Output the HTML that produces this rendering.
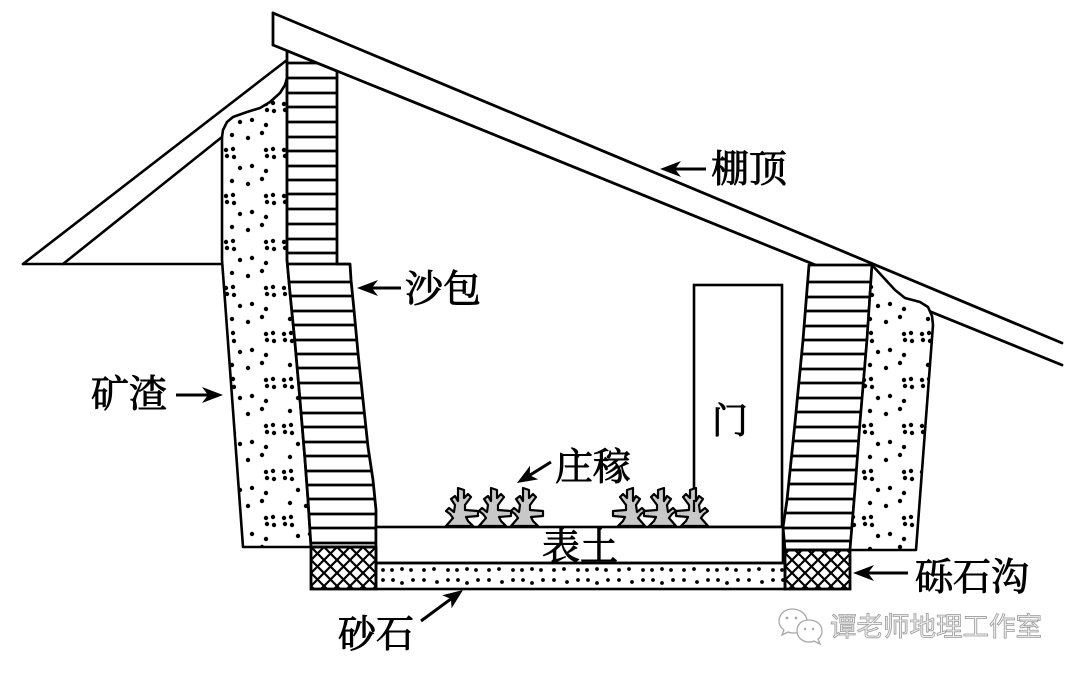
<!DOCTYPE html>
<html>
<head>
<meta charset="utf-8">
<style>
html,body{margin:0;padding:0;background:#fff;}
svg{display:block;}
.lbl{font-family:"Liberation Serif","Noto Serif CJK SC",serif;font-size:38px;fill:#000;stroke:#000;stroke-width:0.9;}
</style>
</head>
<body>
<svg width="1080" height="676" viewBox="0 0 1080 676" xmlns="http://www.w3.org/2000/svg">
<defs>
  <pattern id="slag" patternUnits="userSpaceOnUse" x="222" y="100" width="58" height="46">
    <g fill="#000">
      <circle cx="4" cy="4" r="2.2"/><circle cx="11" cy="3" r="2.2"/><circle cx="5" cy="10" r="2.2"/><circle cx="12" cy="11" r="2.2"/>
      <circle cx="44" cy="4" r="2.2"/><circle cx="51" cy="3" r="2.2"/><circle cx="45" cy="10" r="2.2"/><circle cx="52" cy="11" r="2.2"/>
      <circle cx="18" cy="22" r="2.2"/><circle cx="30" cy="20" r="2.2"/><circle cx="44" cy="25" r="2.2"/>
      <circle cx="10" cy="35" r="2.2"/><circle cx="26" cy="38" r="2.2"/><circle cx="40" cy="33" r="2.2"/>
    </g>
  </pattern>
  <pattern id="sand" patternUnits="userSpaceOnUse" x="380" y="563" width="65" height="26">
    <g fill="#000">
      <circle cx="3" cy="7" r="1.9"/><circle cx="12" cy="7" r="1.9"/><circle cx="22" cy="6" r="1.9"/><circle cx="31" cy="7" r="1.9"/><circle cx="44" cy="7" r="1.9"/><circle cx="54" cy="6" r="1.9"/>
      <circle cx="3" cy="17" r="1.9"/><circle cx="13" cy="17" r="1.9"/><circle cx="22" cy="20" r="1.9"/><circle cx="33" cy="17" r="1.9"/><circle cx="44" cy="17" r="1.9"/><circle cx="57" cy="19" r="1.9"/>
    </g>
  </pattern>
  <pattern id="hatch" patternUnits="userSpaceOnUse" x="311" y="547" width="13" height="13">
    <path d="M0,0 L13,13 M13,0 L0,13 M-1,12 L1,14 M12,-1 L14,1" stroke="#000" stroke-width="2.2"/>
  </pattern>
  <clipPath id="lcol">
    <polygon points="287,50.7 337,71.1 337,264 350,264 351,280 354,310 358,353 363,400 368,447 373,480 376,510 376,547 311,547 308,500 305,460 300,400 295,343 290,293 287,260"/>
  </clipPath>
  <clipPath id="rcol">
    <polygon points="809,265 872,265 867,340 860,423 855,490 850,550 785,550 783,527 787,500 795,423 803,340"/>
  </clipPath>
  <g id="plant">
    <path d="M-15,0 L-8,-8 L-11,-12 L-15,-15 L-12,-18 L-7,-14 L-6,-21 L-10,-27 L-6,-30 L-3,-25 L-3,-38 L3,-36 L3,-28 L7,-32 L10,-29 L4,-21 L4,-16 L17,-15 L17,-10 L5,-9 L7,-5 L12,0 Z" fill="#c8c8c8" stroke="#000" stroke-width="2.2" stroke-linejoin="round"/>
  </g>
</defs>

<rect width="1080" height="676" fill="#fff"/>

<!-- left lean-to -->
<g stroke="#000" stroke-width="2.6" fill="none" stroke-linecap="round">
  <line x1="23" y1="264" x2="287" y2="60"/>
  <line x1="63" y1="264" x2="222" y2="137"/>
  <line x1="23" y1="264" x2="222" y2="264"/>
</g>

<!-- left slag -->
<polygon points="222,137 223,130 227,122 233,117 247,112 260,108 270,102 280,93 285,85 287,78 287,260 290,293 295,343 300,400 305,460 308,500 311,547 243,547 222,260" fill="url(#slag)" stroke="#000" stroke-width="2.6" stroke-linejoin="round"/>

<!-- left sandbag column -->
<polygon points="287,50.7 337,71.1 337,264 350,264 351,280 354,310 358,353 363,400 368,447 373,480 376,510 376,547 311,547 308,500 305,460 300,400 295,343 290,293 287,260" fill="#fff"/>
<g clip-path="url(#lcol)" stroke="#000" stroke-width="2.8">
  <line x1="280" x2="390" y1="63" y2="63"/><line x1="280" x2="390" y1="78" y2="78"/><line x1="280" x2="390" y1="93" y2="93"/>
  <line x1="280" x2="390" y1="107" y2="107"/><line x1="280" x2="390" y1="122" y2="122"/><line x1="280" x2="390" y1="137" y2="137"/>
  <line x1="280" x2="390" y1="151" y2="151"/><line x1="280" x2="390" y1="166" y2="166"/><line x1="280" x2="390" y1="180" y2="180"/>
  <line x1="280" x2="390" y1="194" y2="194"/><line x1="280" x2="390" y1="209" y2="209"/><line x1="280" x2="390" y1="224" y2="224"/>
  <line x1="280" x2="390" y1="239" y2="239"/><line x1="280" x2="390" y1="253" y2="253"/><line x1="280" x2="390" y1="264" y2="264"/>
  <line x1="280" x2="390" y1="282" y2="282"/><line x1="280" x2="390" y1="296" y2="296"/><line x1="280" x2="390" y1="311" y2="311"/>
  <line x1="280" x2="390" y1="325" y2="325"/><line x1="280" x2="390" y1="340" y2="340"/><line x1="280" x2="390" y1="354" y2="354"/>
  <line x1="280" x2="390" y1="368" y2="368"/><line x1="280" x2="390" y1="383" y2="383"/><line x1="280" x2="390" y1="398" y2="398"/>
  <line x1="280" x2="390" y1="413" y2="413"/><line x1="280" x2="390" y1="427" y2="427"/><line x1="280" x2="390" y1="442" y2="442"/>
  <line x1="280" x2="390" y1="456" y2="456"/><line x1="280" x2="390" y1="471" y2="471"/><line x1="280" x2="390" y1="485" y2="485"/>
  <line x1="280" x2="390" y1="499" y2="499"/><line x1="280" x2="390" y1="514" y2="514"/><line x1="280" x2="390" y1="528" y2="528"/>
  <line x1="280" x2="390" y1="543" y2="543"/>
</g>
<polygon points="287,50.7 337,71.1 337,264 350,264 351,280 354,310 358,353 363,400 368,447 373,480 376,510 376,547 311,547 308,500 305,460 300,400 295,343 290,293 287,260" fill="none" stroke="#000" stroke-width="2.8" stroke-linejoin="round"/>

<!-- roof board -->
<polygon points="273,13 1062,343 1062,365 273,45" fill="#fff"/>
<g stroke="#000" stroke-width="2.8" fill="none" stroke-linecap="round">
  <line x1="273" y1="13" x2="1062" y2="343"/>
  <line x1="273" y1="45" x2="1062" y2="365"/>
  <line x1="273" y1="13" x2="273" y2="45"/>
</g>

<!-- door -->
<rect x="694" y="285" width="88" height="242" fill="#fff" stroke="#000" stroke-width="2.6"/>

<!-- right sandbag column -->
<polygon points="809,265 872,265 867,340 860,423 855,490 850,550 785,550 783,527 787,500 795,423 803,340" fill="#fff"/>
<g clip-path="url(#rcol)" stroke="#000" stroke-width="2.8">
  <line x1="775" x2="880" y1="282" y2="282"/><line x1="775" x2="880" y1="297" y2="297"/><line x1="775" x2="880" y1="311" y2="311"/>
  <line x1="775" x2="880" y1="326" y2="326"/><line x1="775" x2="880" y1="340" y2="340"/><line x1="775" x2="880" y1="354" y2="354"/>
  <line x1="775" x2="880" y1="369" y2="369"/><line x1="775" x2="880" y1="383" y2="383"/><line x1="775" x2="880" y1="398" y2="398"/>
  <line x1="775" x2="880" y1="412" y2="412"/><line x1="775" x2="880" y1="427" y2="427"/><line x1="775" x2="880" y1="441" y2="441"/>
  <line x1="775" x2="880" y1="456" y2="456"/><line x1="775" x2="880" y1="470" y2="470"/><line x1="775" x2="880" y1="484" y2="484"/>
  <line x1="775" x2="880" y1="499" y2="499"/><line x1="775" x2="880" y1="513" y2="513"/><line x1="775" x2="880" y1="528" y2="528"/>
  <line x1="775" x2="880" y1="541" y2="541"/>
</g>
<polygon points="809,265 872,265 867,340 860,423 855,490 850,550 785,550 783,527 787,500 795,423 803,340" fill="none" stroke="#000" stroke-width="2.8" stroke-linejoin="round"/>

<!-- right slag -->
<polygon points="872,265 883,277 895,290 905,298 920,302 928,307 932,316 933,325 916,550 850,550 855,490 860,423 867,340" fill="#fff"/>
<polygon points="872,265 883,277 895,290 905,298 920,302 928,307 932,316 933,325 916,550 850,550 855,490 860,423 867,340" fill="url(#slag)" stroke="#000" stroke-width="2.6" stroke-linejoin="round"/>

<!-- topsoil, sand, gravel trenches -->
<rect x="376" y="527" width="407" height="36" fill="#fff" stroke="#000" stroke-width="2.6"/>
<rect x="376" y="563" width="409" height="26" fill="url(#sand)" stroke="#000" stroke-width="2.6"/>
<rect x="311" y="547" width="65" height="42" fill="url(#hatch)" stroke="#000" stroke-width="2.8"/>
<rect x="785" y="550" width="65" height="39" fill="url(#hatch)" stroke="#000" stroke-width="2.8"/>

<!-- plants -->
<use href="#plant" x="461" y="526"/>
<use href="#plant" x="494" y="526"/>
<use href="#plant" x="526" y="526"/>
<use href="#plant" transform="translate(630,526) scale(-1,1)"/>
<use href="#plant" transform="translate(661,526) scale(-1,1)"/>
<use href="#plant" transform="translate(693,526) scale(-1,1)"/>
<line x1="694" y1="500" x2="694" y2="512" stroke="#000" stroke-width="2.2"/>

<!-- arrows -->
<g fill="#000" stroke="none">
  <polygon points="660,169 681,161 675,169 681,177"/>
  <polygon points="357,288 378,280 372,288 378,296"/>
  <polygon points="223,395 202,387 208,395 202,403"/>
  <polygon points="853,573 874,565 868,573 874,581"/>
  <polygon points="517,483 538.2,479.4 529.8,475.2 530,465.8"/>
  <polygon points="463,590 451.6,608.3 450.9,598.9 442.2,595.3"/>
</g>
<g stroke="#000" stroke-width="3" fill="none">
  <line x1="675" y1="169" x2="706" y2="169"/>
  <line x1="372" y1="288" x2="401" y2="288"/>
  <line x1="176" y1="395" x2="208" y2="395"/>
  <line x1="868" y1="573" x2="908" y2="573"/>
  <line x1="551" y1="462" x2="529.8" y2="475.2"/>
  <line x1="421" y1="621" x2="450.9" y2="598.9"/>
</g>

<!-- labels -->
<text class="lbl" x="711" y="182">棚顶</text>
<text class="lbl" x="405" y="302">沙包</text>
<text class="lbl" x="91" y="407">矿渣</text>
<text class="lbl" x="555" y="480">庄稼</text>
<text class="lbl" x="580" y="560" text-anchor="middle">表土</text>
<text class="lbl" x="338" y="647">砂石</text>
<text class="lbl" x="915" y="590">砾石沟</text>
<text class="lbl" x="730" y="433" text-anchor="middle" style="font-size:36px">门</text>

<!-- watermark -->
<g fill="#fff" stroke="#a8a8a8" stroke-width="1.3">
  <path d="M792,609 C784,609 779,615 779,621 C779,625 781,628 784,630 L782,635 L788,632 C790,633 792,633 794,633 C804,633 807,627 807,621 C807,615 801,609 792,609 Z"/>
  <path d="M809,620 C801,620 797,625 797,631 C797,637 802,642 809,642 C811,642 813,642 814,641 L820,644 L818,639 C821,637 822,634 822,631 C822,625 817,620 809,620 Z"/>
</g>
<g fill="#a8a8a8">
  <circle cx="787" cy="618" r="1.4"/><circle cx="796" cy="618" r="1.4"/>
  <circle cx="805" cy="629" r="1.2"/><circle cx="813" cy="629" r="1.2"/>
</g>
<text x="830" y="636" style="font-family:'Liberation Sans','Noto Sans CJK SC',sans-serif;font-size:26.5px;" fill="#f2f2f2" stroke="#9a9a9a" stroke-width="0.8">谭老师地理工作室</text>
</svg>
</body>
</html>
